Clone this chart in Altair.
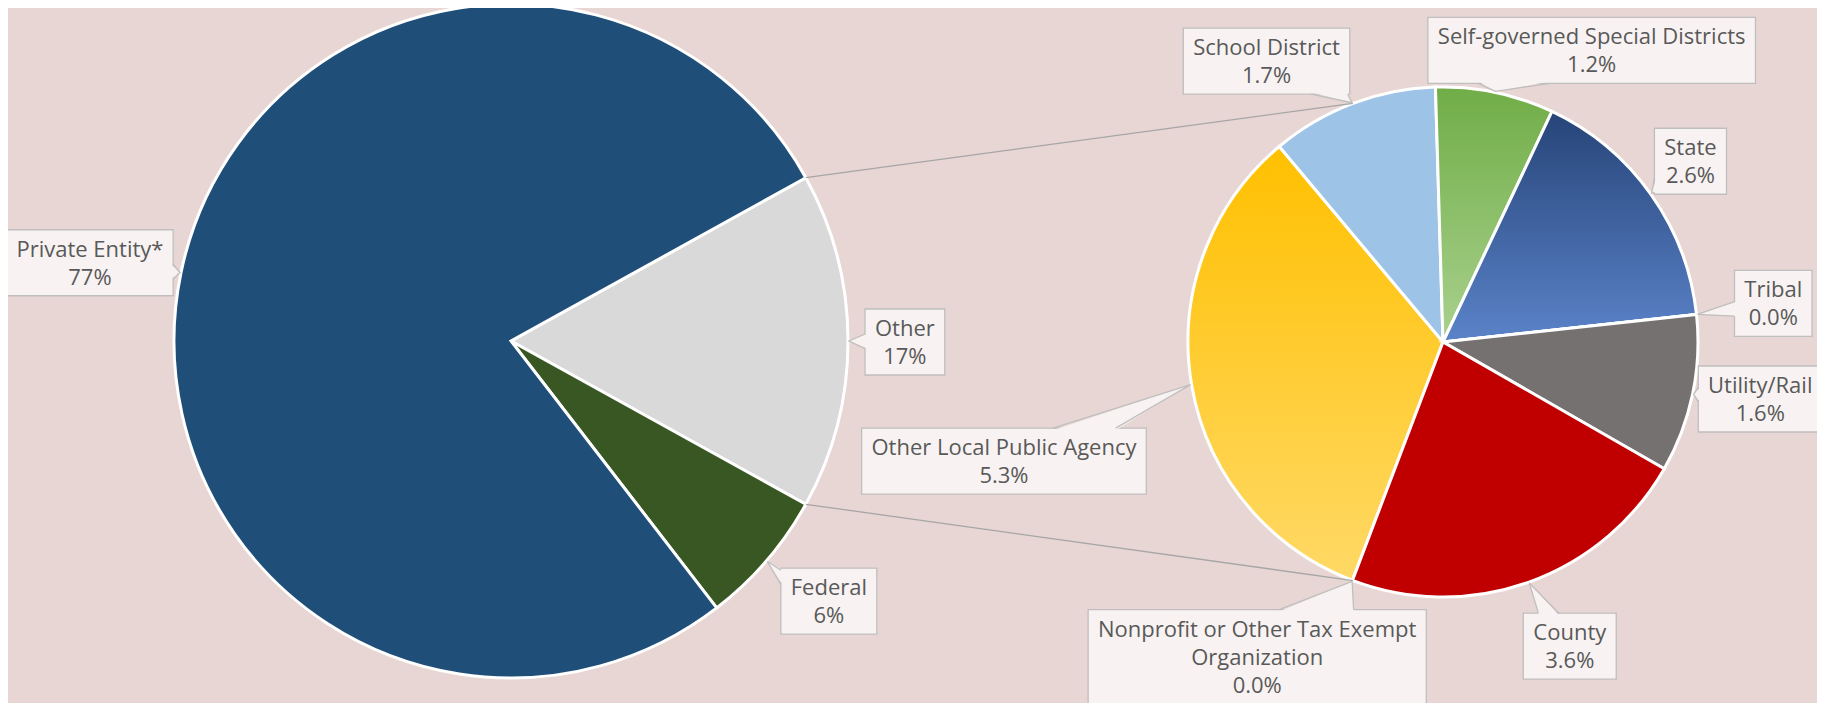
import math
import altair as alt
import pandas as pd

# ---------------- data ----------------
main_names = ["Other", "Federal", "Private Entity*"]
main_values = [16.1, 6.5, 77.4]
main_labels = ["17%", "6%", "77%"]

sub_names = ["Nonprofit or Other Tax Exempt\nOrganization", "Other Local Public Agency", "School District",
             "Self-governed Special Districts", "State", "Tribal", "Utility/Rail", "County"]
sub_values = [0.0, 5.3, 1.7, 1.2, 2.6, 0.0, 1.6, 3.6]
sub_labels = ["0.0%", "5.3%", "1.7%", "1.2%", "2.6%", "0.0%", "1.6%", "3.6%"]

# ---------------- style ----------------
BG = "#E8D6D4"
BOX_FILL = "#F8F3F2"
BOX_STROKE = "#BFBFBF"
TXT = "#595959"
LINE = "#A6A6A6"
FONT = "Open Sans"
FS = 22
LH = 28


def grad(top, bottom):
    return alt.LinearGradient(gradient="linear", x1=0, x2=0, y1=0, y2=1,
                              stops=[alt.GradientStop(offset=0, color=top),
                                     alt.GradientStop(offset=1, color=bottom)])


main_fills = ["#D9D9D9", "#385723", "#1F4E79"]
sub_fills = ["#FFC000", grad("#FFC000", "#FFD966"), "#9DC3E6", grad("#70AD47", "#A9D18E"),
             grad("#264478", "#5B83C9"), "#5B83C9", "#767171", "#C00000"]

# ---------------- layout (page pixels) ----------------
W, H = 1809, 695
X0, Y0 = 8, 8
MAIN_C, MAIN_R = (511, 341), 337
SUB_C, SUB_R = (1443, 342), 255
SUB_START = 200.8 / 360
CONNECT_DEG = (339.3, 200.7)
MAIN_START = 0.25 - main_values[0] / sum(main_values) / 2
GAP = 15
NUDGE = {
    "Private Entity*": (10, 11), "Other": (2, 1), "Federal": (7, -7),
    "Other Local Public Agency": (-29, 50), "Nonprofit or Other Tax Exempt\nOrganization": (-53, -35),
    "County": (20, 6), "Utility/Rail": (-13, -12), "Tribal": (20, -5), "State": (-12, 4),
    "Self-governed Special Districts": (80, 37), "School District": (-59, 28),
}

XS = alt.Scale(domain=[X0, X0 + W], nice=False, zero=False)
YS = alt.Scale(domain=[Y0, Y0 + H], nice=False, zero=False, reverse=True)
THETA = alt.Scale(domain=[0, 1], range=[0, 2 * math.pi])

# approximate Open Sans advance widths (em)
CW = {" ": .26, "a": .556, "b": .613, "c": .476, "d": .613, "e": .561, "f": .339, "g": .548, "h": .614,
      "i": .253, "j": .253, "k": .525, "l": .253, "m": .93, "n": .614, "o": .604, "p": .613, "q": .613,
      "r": .408, "s": .477, "t": .353, "u": .614, "v": .501, "w": .778, "x": .524, "y": .502, "z": .477,
      "A": .633, "B": .648, "C": .631, "D": .729, "E": .549, "F": .501, "G": .72, "H": .738, "I": .279,
      "L": .51, "N": .764, "O": .781, "P": .59, "R": .598, "S": .544, "T": .53, "U": .728,
      "%": .807, ".": .266, "/": .367, "*": .551, "-": .322}


def text_w(s):
    return sum(CW.get(ch, .572) for ch in s) * FS


def pie_base(names, values, start):
    df = pd.DataFrame({"idx": list(range(len(values))), "name": names, "value": values})
    return (alt.Chart(df)
            .transform_joinaggregate(total="sum(value)")
            .transform_window(cum="sum(value)", sort=[alt.SortField("idx")], frame=[None, 0])
            .transform_calculate(t0=f"{start} + (datum.cum - datum.value) / datum.total",
                                 t1=f"{start} + datum.cum / datum.total"))


def slice_layers(names, values, start, center, radius, fills):
    base = pie_base(names, values, start)
    layers = []
    for i, f in enumerate(fills):
        layers.append(
            base.transform_filter(f"datum.idx == {i}")
            .mark_arc(radius=radius, fill=f, stroke="white", strokeWidth=3)
            .encode(theta=alt.Theta("t0:Q", scale=THETA), theta2="t1:Q",
                    x=alt.X(datum=center[0], scale=XS, axis=None),
                    y=alt.Y(datum=center[1], scale=YS, axis=None)))
    return layers


def mids(values, start):
    tot, c, out = sum(values), 0.0, []
    for v in values:
        out.append((start + (c + v / 2) / tot) * 360)
        c += v
    return out


def pt(center, r, deg):
    a = math.radians(deg)
    return center[0] + r * math.sin(a), center[1] - r * math.cos(a)


boxes, wedge_fill, wedge_line = [], [], []


def add_label(key, text, center, radius, deg):
    lines = text.split("\n")
    w = max(text_w(s) for s in lines) + 20
    h = len(lines) * LH + 10
    a = math.radians(deg)
    d = radius + GAP + abs(math.sin(a)) * w / 2 + abs(math.cos(a)) * h / 2
    nx, ny = NUDGE.get(key, (0, 0))
    cx = center[0] + d * math.sin(a) + nx
    cy = center[1] - d * math.cos(a) + ny
    tipx, tipy = pt(center, radius + 1, deg)
    hw, hh = w / 2, h / 2
    dx, dy = tipx - cx, tipy - cy
    tx = hw / abs(dx) if dx else 1e9
    ty = hh / abs(dy) if dy else 1e9
    n = len(boxes)
    if tx < ty:
        ex = cx + math.copysign(hw, dx)
        half = 0.11 * h
        ey = min(max(cy + dy * tx, cy - hh + half + 2), cy + hh - half - 2)
        ein = ex - math.copysign(2, dx)
        fill_pts = [(ein, ey - half), (tipx, tipy), (ein, ey + half)]
        line_pts = [(ex, ey - half), (tipx, tipy), (ex, ey + half)]
    else:
        ey = cy + math.copysign(hh, dy)
        half = 0.11 * w
        ex = min(max(cx + dx * ty, cx - hw + half + 2), cx + hw - half - 2)
        ein = ey - math.copysign(2, dy)
        fill_pts = [(ex - half, ein), (tipx, tipy), (ex + half, ein)]
        line_pts = [(ex - half, ey), (tipx, tipy), (ex + half, ey)]
    for k, (px, py) in enumerate(fill_pts):
        wedge_fill.append({"id": n, "k": k, "x": px, "y": py})
    for k, (px, py) in enumerate(line_pts):
        wedge_line.append({"id": n, "k": k, "x": px, "y": py})
    boxes.append({"bx1": cx - hw, "bx2": cx + hw, "by1": cy - hh, "by2": cy + hh,
                  "tx": cx, "ty": cy - (len(lines) - 1) * LH / 2 + 1, "text": text})


for nm, lab, m in zip(main_names, main_labels, mids(main_values, MAIN_START)):
    add_label(nm, nm + "\n" + lab, MAIN_C, MAIN_R, m)
for nm, lab, m in zip(sub_names, sub_labels, mids(sub_values, SUB_START)):
    add_label(nm, nm + "\n" + lab, SUB_C, SUB_R, m)

# connector lines
other_frac = main_values[0] / sum(main_values)
a_top, a_bot = MAIN_START * 360, (MAIN_START + other_frac) * 360
p1, p2 = pt(MAIN_C, MAIN_R, a_top), pt(SUB_C, SUB_R, CONNECT_DEG[0])
p3, p4 = pt(MAIN_C, MAIN_R, a_bot), pt(SUB_C, SUB_R, CONNECT_DEG[1])
conn_df = pd.DataFrame({"x": [p1[0], p3[0]], "y": [p1[1], p3[1]],
                        "x2": [p2[0], p4[0]], "y2": [p2[1], p4[1]]})

layers = []
layers += slice_layers(main_names, main_values, MAIN_START, MAIN_C, MAIN_R, main_fills)
layers += slice_layers(sub_names, sub_values, SUB_START, SUB_C, SUB_R, sub_fills)

layers.append(alt.Chart(conn_df).mark_rule(color=LINE, strokeWidth=1.3).encode(
    x=alt.X("x:Q", scale=XS, axis=None), y=alt.Y("y:Q", scale=YS, axis=None), x2="x2:Q", y2="y2:Q"))

box_df = pd.DataFrame(boxes)
layers.append(alt.Chart(box_df).mark_rect(fill=BOX_FILL, stroke=BOX_STROKE, strokeWidth=1.3).encode(
    x=alt.X("bx1:Q", scale=XS, axis=None), x2="bx2:Q",
    y=alt.Y("by1:Q", scale=YS, axis=None), y2="by2:Q"))
layers.append(alt.Chart(pd.DataFrame(wedge_fill)).mark_line(
    fill=BOX_FILL, stroke=BOX_FILL, strokeOpacity=0, strokeWidth=0).encode(
    x=alt.X("x:Q", scale=XS, axis=None), y=alt.Y("y:Q", scale=YS, axis=None),
    detail="id:N", order="k:Q"))
layers.append(alt.Chart(pd.DataFrame(wedge_line)).mark_line(
    stroke=BOX_STROKE, strokeWidth=1.3).encode(
    x=alt.X("x:Q", scale=XS, axis=None), y=alt.Y("y:Q", scale=YS, axis=None),
    detail="id:N", order="k:Q"))
layers.append(alt.Chart(box_df).mark_text(
    font=FONT, fontSize=FS, lineHeight=LH, lineBreak="\n", color=TXT,
    align="center", baseline="middle").encode(
    x=alt.X("tx:Q", scale=XS, axis=None), y=alt.Y("ty:Q", scale=YS, axis=None), text="text:N"))

chart = (alt.layer(*layers)
         .properties(width=W, height=H, background=BG, padding=0, autosize="none")
         .configure_view(stroke=None))

chart.save("out.html", embed_options={"renderer": "svg", "actions": False})
